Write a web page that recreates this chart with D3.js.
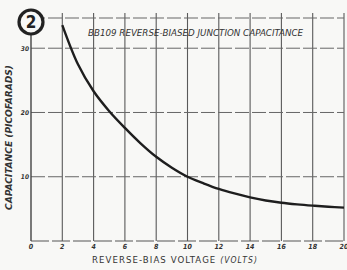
<!DOCTYPE html>
<html>
<head>
<meta charset="utf-8">
<script src="https://cdn.jsdelivr.net/npm/d3@7"></script>
<style>
  html, body { margin: 0; padding: 0; background: #f8f8f6; }
  svg { display: block; }
  text { font-family: 'Liberation Sans Narrow', 'DejaVu Sans Condensed', 'Liberation Sans', sans-serif; fill: #333; }
</style>
</head>
<body>
<svg id="chart" width="347" height="270"></svg>
<script>
'use strict'

// values
var voltage = [2, 3, 4, 5, 6, 7, 8, 9, 10, 11, 12, 13, 14, 15, 16, 17, 18, 19, 20]
var capacitance = [33.6, 27.5, 23.3, 20.2, 17.6, 15.2, 13.1, 11.4, 10, 9, 8.1, 7.4, 6.8, 6.3, 5.95, 5.7, 5.5, 5.33, 5.2]
var xTicks = [0, 2, 4, 6, 8, 10, 12, 14, 16, 18, 20]
var yTicks = [10, 20, 30]

var svg = d3.select('#chart')

var x = d3.scaleLinear().domain([0, 20]).range([31, 344])
var y = d3.scaleLinear().domain([0, 34.7]).range([241, 18])

var grid = svg.append('g').attr('class', 'grid')

// vertical grid lines, poking a little above the top border
grid.selectAll('line.v')
  .data(xTicks.slice(1))
  .enter().append('line')
    .attr('class', 'v')
    .attr('x1', (d) => x(d))
    .attr('x2', (d) => x(d))
    .attr('y1', 13)
    .attr('y2', y(0))
    .attr('stroke', '#5a5a5a')
    .attr('stroke-width', 1.1)

// horizontal dashed lines, top border included
grid.selectAll('line.h')
  .data(yTicks.concat([34.7]))
  .enter().append('line')
    .attr('class', 'h')
    .attr('x1', x(0))
    .attr('x2', x(20))
    .attr('y1', (d) => y(d))
    .attr('y2', (d) => y(d))
    .attr('stroke', '#666')
    .attr('stroke-width', 1)
    .attr('stroke-dasharray', '14 3')

// axes
grid.append('line')
  .attr('x1', x(0)).attr('x2', x(20))
  .attr('y1', y(0)).attr('y2', y(0))
  .attr('stroke', '#555').attr('stroke-width', 1.2)
  .attr('stroke-dasharray', '18 3')
grid.append('line')
  .attr('x1', x(0)).attr('x2', x(0))
  .attr('y1', y(34.7)).attr('y2', y(0))
  .attr('stroke', '#444').attr('stroke-width', 1.4)

// tick labels
svg.append('g')
  .selectAll('text')
  .data(xTicks)
  .enter().append('text')
    .attr('x', (d) => x(d))
    .attr('y', 249)
    .attr('text-anchor', 'middle')
    .attr('font-size', 7)
    .attr('font-style', 'italic')
    .attr('font-weight', 'bold')
    .text((d) => d)

svg.append('g')
  .selectAll('text')
  .data(yTicks)
  .enter().append('text')
    .attr('x', 29)
    .attr('y', (d) => y(d) + 2.5)
    .attr('text-anchor', 'end')
    .attr('font-size', 6.5)
    .attr('font-style', 'italic')
    .attr('font-weight', 'bold')
    .text((d) => d)

// the curve
var line = d3.line()
  .x((d, i) => x(voltage[i]))
  .y((d) => y(d))
  .curve(d3.curveCatmullRom)

svg.append('path')
  .datum(capacitance)
  .attr('d', line)
  .attr('fill', 'none')
  .attr('stroke', '#1e1e1e')
  .attr('stroke-width', 2.4)

// title
svg.append('text')
  .attr('x', 88)
  .attr('y', 36)
  .attr('textLength', 215)
  .attr('lengthAdjust', 'spacingAndGlyphs')
  .attr('font-size', 8)
  .attr('font-style', 'italic')
  .text('BB109  REVERSE-BIASED  JUNCTION CAPACITANCE')

// axis titles
svg.append('text')
  .attr('x', 92)
  .attr('y', 263)
  .attr('textLength', 166)
  .attr('lengthAdjust', 'spacingAndGlyphs')
  .attr('font-size', 9)
  .attr('letter-spacing', 1)
  .text('REVERSE-BIAS  VOLTAGE  ')
  .append('tspan')
    .attr('font-style', 'italic')
    .attr('font-size', 8)
    .text('(VOLTS)')

svg.append('text')
  .attr('transform', 'translate(12,210) rotate(-90)')
  .attr('textLength', 145)
  .attr('lengthAdjust', 'spacingAndGlyphs')
  .attr('font-size', 8)
  .attr('font-style', 'italic')
  .attr('font-weight', 'bold')
  .text('CAPACITANCE  (PICOFARADS)')

// figure number badge
var badge = svg.append('g').attr('transform', 'translate(31,22)')
badge.append('circle')
  .attr('r', 12)
  .attr('fill', '#f8f8f6')
  .attr('stroke', '#222')
  .attr('stroke-width', 3.2)
badge.append('text')
  .attr('y', 6)
  .attr('text-anchor', 'middle')
  .attr('font-family', 'Liberation Sans, Arial, sans-serif')
  .attr('font-size', 17)
  .attr('font-weight', 'bold')
  .style('fill', '#222')
  .text('2')
</script>
</body>
</html>
